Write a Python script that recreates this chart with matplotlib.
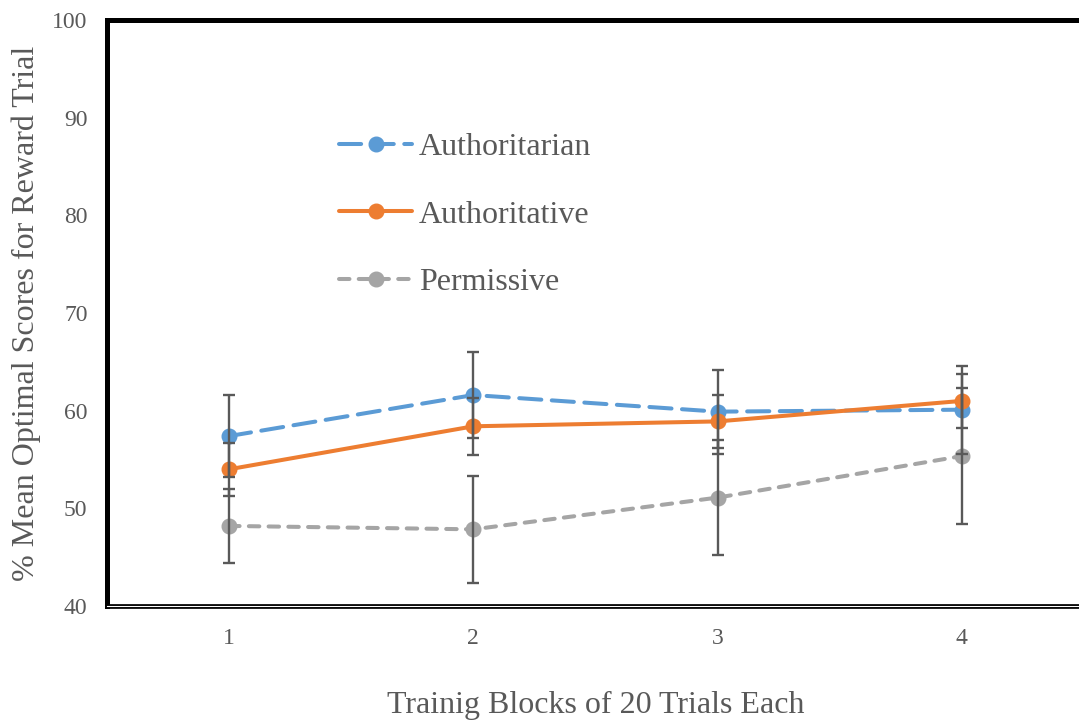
import matplotlib
matplotlib.use("Agg")
import matplotlib.pyplot as plt

blocks = [1, 2, 3, 4]
authoritarian = [57.4, 61.6, 59.9, 60.1]
authoritarian_err = [4.2, 4.4, 4.3, 4.5]
authoritative = [54.0, 58.4, 58.9, 61.0]
authoritative_err = [2.7, 2.9, 2.7, 2.8]
permissive = [48.2, 47.85, 51.1, 55.35]
permissive_err = [3.8, 5.45, 5.9, 6.95]
yticks = [40, 50, 60, 70, 80, 90, 100]

plt.rcParams['font.family'] = ['Liberation Serif', 'DejaVu Serif']
grey_txt = '#595959'

fig = plt.figure(figsize=(10.79, 7.21), dpi=100)
W, H = 1079, 721
left, right, top, bottom = 107, 1084, 20, 606
ax = fig.add_axes([left / W, (H - bottom) / H, (right - left) / W, (bottom - top) / H])

blue, orange, grey = '#5B9BD5', '#ED7D31', '#A5A5A5'
lw = 2.9
ms = 10.5

l1, = ax.plot(blocks, authoritarian, color=blue, lw=lw, marker='o', ms=ms,
              dashes=(5.5, 2.6), dash_capstyle='round', zorder=3, label='Authoritarian')
l2, = ax.plot(blocks, authoritative, color=orange, lw=lw, marker='o', ms=ms,
              solid_capstyle='round', zorder=4, label='Authoritative')
l3, = ax.plot(blocks, permissive, color=grey, lw=lw, marker='o', ms=ms,
              dashes=(2.6, 2.3), dash_capstyle='round', zorder=3, label='Permissive')

for vals, errs in [(authoritarian, authoritarian_err), (authoritative, authoritative_err),
                   (permissive, permissive_err)]:
    ax.errorbar(blocks, vals, yerr=errs, fmt='none', ecolor='#595959', elinewidth=1.7,
                capsize=4.5, capthick=1.7, zorder=6)

ax.set_xlim(0.5, 4.5)
ax.set_ylim(40, 100)
ax.set_xticks(blocks)
ax.set_xticklabels([str(b) for b in blocks])
ax.set_yticks(yticks)
ax.tick_params(length=0, labelsize=17, colors=grey_txt, pad=14)
ax.tick_params(axis='x', pad=16)

for s in ['top', 'left']:
    ax.spines[s].set_linewidth(3.6)
    ax.spines[s].set_color('black')
ax.spines['right'].set_visible(False)
ax.spines['bottom'].set_linewidth(3.4)
ax.spines['bottom'].set_color('black')
ax.axhline(40, color='white', lw=0.8, zorder=10, clip_on=False)

ax.set_ylabel('% Mean Optimal Scores for Reward Trial', fontsize=23, color=grey_txt, labelpad=8)
ax.set_xlabel('Trainig Blocks of 20 Trials Each', fontsize=23, color=grey_txt, labelpad=30)

leg = ax.legend(handles=[l1, l2, l3], loc='upper left', bbox_to_anchor=(0.2374, 0.808),
                frameon=False, fontsize=23, handlelength=2.3, handletextpad=0.2,
                labelspacing=1.2, labelcolor=grey_txt, borderpad=0, borderaxespad=0)

fig.savefig('out.png', dpi=100)
